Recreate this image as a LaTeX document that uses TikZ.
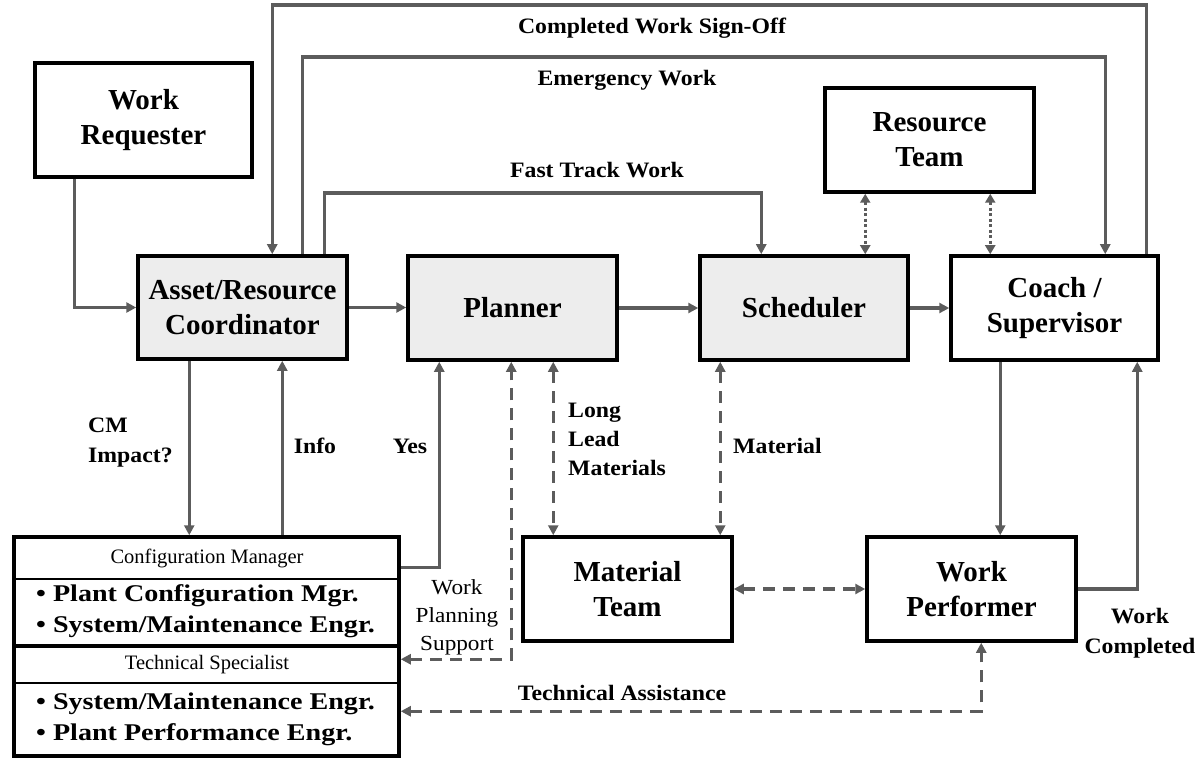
\documentclass[tikz,border=0pt]{standalone}
\usepackage{fontspec}
\setmainfont{Liberation Serif}
\newfontfamily\widefont[FakeStretch=1.08]{Liberation Serif}
\newfontfamily\widerfont[FakeStretch=1.17]{Liberation Serif}
\usetikzlibrary{arrows.meta}
\definecolor{linegray}{HTML}{5C5C5C}
\definecolor{boxgray}{HTML}{EDEDED}
\begin{document}
\begin{tikzpicture}[x=1pt,y=-1pt,
  box/.style={draw=black,line width=3.5pt,inner sep=0pt,align=center,
    font=\fontsize{29}{35}\selectfont\bfseries,text=black},
  gbox/.style={box,fill=boxgray},
  tip/.style={-{Triangle[length=10pt,width=10pt]}},
  flow/.style={draw=linegray,line width=3.3pt,tip},
  dflow/.style={draw=linegray,line width=3.3pt,dash pattern=on 12pt off 8pt,
    {Triangle[length=10pt,width=10pt]}-{Triangle[length=10pt,width=10pt]}},
  dotflow/.style={draw=linegray,line width=3.3pt,dash pattern=on 3pt off 2.5pt,
    {Triangle[length=9pt,width=10pt]}-{Triangle[length=9pt,width=10pt]}},
  lbl/.style={font=\widefont\fontsize{22}{30}\selectfont\bfseries,align=left,inner sep=0pt},
  sep/.style={draw=black,line width=2.2pt},
  head/.style={font=\fontsize{20.5}{22}\selectfont,inner sep=0pt},
  items/.style={font=\widerfont\fontsize{24}{31}\selectfont\bfseries,align=left,inner sep=0pt,anchor=west}
]
\useasboundingbox (0,0) rectangle (1203,762);

% ---- boxes ----
\node[box,minimum width=217pt,minimum height=114pt] (req) at (143.5,120) {Work\\Requester};
\node[gbox,minimum width=209pt,minimum height=103pt] (arc) at (242.5,307.5) {Asset/Resource\\Coordinator};
\node[gbox,minimum width=209pt,minimum height=104pt] (plan) at (512.5,308) {Planner};
\node[gbox,minimum width=208pt,minimum height=104pt] (sched) at (804,308) {Scheduler};
\node[box,minimum width=207pt,minimum height=104pt] (coach) at (1054.5,308) {Coach /\\Supervisor};
\node[box,minimum width=209pt,minimum height=104pt] (rteam) at (929.5,140) {Resource\\Team};
\node[box,minimum width=209pt,minimum height=104pt] (mat) at (627.5,589) {Material\\Team};
\node[box,minimum width=209pt,minimum height=104pt] (perf) at (971.5,589) {Work\\Performer};

% ---- configuration manager / technical specialist panel ----
\node[draw=black,line width=3.5pt,minimum width=385pt,minimum height=219pt,inner sep=0pt] (cfg) at (206.5,646.5) {};
\draw[sep] ([yshift=-43.5pt]cfg.north west) -- ([yshift=-43.5pt]cfg.north east);
\draw[sep,line width=3.5pt] ([yshift=-110.5pt]cfg.north west) -- ([yshift=-110.5pt]cfg.north east);
\draw[sep] ([yshift=-147.5pt]cfg.north west) -- ([yshift=-147.5pt]cfg.north east);
\node[head] (cfghead) at (207,558) {Configuration Manager};
\node[items] (cfgitems) at (36,611) {• Plant Configuration Mgr.\\• System/Maintenance Engr.};
\node[head] (tshead) at (207,665) {Technical Specialist};
\node[items] (tsitems) at (36,719) {• System/Maintenance Engr.\\• Plant Performance Engr.};

% ---- attachment points ----
\coordinate (reqS) at ([xshift=41pt]req.south west);
\coordinate (arcN1) at ([xshift=136pt]arc.north west);
\coordinate (arcN2) at ([xshift=166pt]arc.north west);
\coordinate (arcN3) at ([xshift=188pt]arc.north west);
\coordinate (arcS1) at ([xshift=53pt]arc.south west);
\coordinate (arcS2) at ([xshift=146pt]arc.south west);
\coordinate (planS1) at ([xshift=33pt]plan.south west);
\coordinate (planS2) at ([xshift=105pt]plan.south west);
\coordinate (planS3) at ([xshift=147pt]plan.south west);
\coordinate (schedN1) at ([xshift=63pt]sched.north west);
\coordinate (schedS1) at ([xshift=22pt]sched.south west);
\coordinate (rteamS1) at ([xshift=42pt]rteam.south west);
\coordinate (rteamS2) at ([xshift=167pt]rteam.south west);
\coordinate (coachN2) at ([xshift=156pt]coach.north west);
\coordinate (coachN3) at ([xshift=197pt]coach.north west);
\coordinate (coachS1) at ([xshift=51pt]coach.south west);
\coordinate (coachS2) at ([xshift=188pt]coach.south west);
\coordinate (perfS1) at ([xshift=116pt]perf.south west);
\coordinate (cfgE1) at ([yshift=-32pt]cfg.north east);
\coordinate (cfgE2) at ([yshift=-124pt]cfg.north east);
\coordinate (cfgE3) at ([yshift=-176pt]cfg.north east);
\coordinate (lvlCW) at (0,5);
\coordinate (lvlEW) at (0,57);
\coordinate (lvlFT) at (0,193);

% ---- connectors ----
\draw[flow] (reqS) |- (arc.west);
\draw[flow] (arc.east) -- (arc.east -| plan.west);
\draw[flow] (plan.east) -- (plan.east -| sched.west);
\draw[flow] (sched.east) -- (sched.east -| coach.west);
\draw[flow] (arcN3) -- (arcN3 |- lvlFT) -| (schedN1);
\draw[flow] (arcN2) -- (arcN2 |- lvlEW) -| (coachN2);
\draw[flow] (coachN3) -- (coachN3 |- lvlCW) -| (arcN1);
\draw[dotflow] (rteamS1) -- (rteamS1 |- sched.north);
\draw[dotflow] (rteamS2) -- (rteamS2 |- coach.north);
\draw[flow] (arcS1) -- (arcS1 |- cfg.north);
\draw[flow] (arcS2 |- cfg.north) -- (arcS2);
\draw[flow] (cfgE1) -| (planS1);
\draw[dflow] (cfgE2) -| (planS2);
\draw[dflow] (planS3) -- (planS3 |- mat.north);
\draw[dflow] (schedS1) -- (schedS1 |- mat.north);
\draw[dflow] (mat.east) -- (perf.west);
\draw[flow] (coachS1) -- (coachS1 |- perf.north);
\draw[flow] (perf.east) -| (coachS2);
\draw[dflow] (cfgE3) -| (perfS1);

% ---- labels ----
\node[lbl] (lCW) at (652,28) {Completed Work Sign-Off};
\node[lbl] (lEW) at (627,80) {Emergency Work};
\node[lbl] (lFT) at (597,170) {Fast Track Work};
\node[lbl,anchor=west] (lCM) at (88,443) {CM\\Impact?};
\node[lbl] (lInfo) at (315,446) {Info};
\node[lbl] (lYes) at (410,446) {Yes};
\node[lbl,anchor=west,font=\widefont\fontsize{22}{29}\selectfont\bfseries] (lLLM) at (568,439) {Long\\Lead\\Materials};
\node[lbl,anchor=west] (lMat) at (733,446) {Material};
\node[lbl,align=center,font=\widefont\fontsize{21.5}{28}\selectfont] (lWPS) at (457,617) {Work\\Planning\\Support};
\node[lbl] (lTA) at (622,693) {Technical Assistance};
\node[lbl,align=center] (lWC) at (1140,633) {Work\\Completed};
\end{tikzpicture}
\end{document}
